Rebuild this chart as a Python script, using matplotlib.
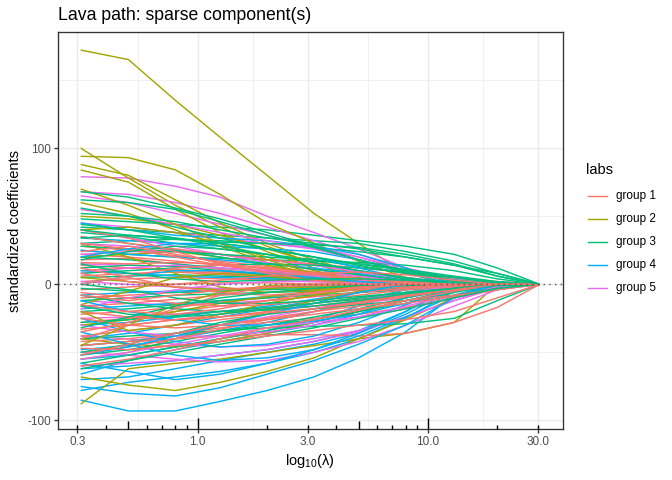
import matplotlib
matplotlib.use("Agg")
import matplotlib.pyplot as plt
from matplotlib.lines import Line2D
from matplotlib.transforms import blended_transform_factory
import numpy as np

plt.rcParams['font.family'] = ['Liberation Sans', 'DejaVu Sans']
plt.rcParams['mathtext.fontset'] = 'custom'
plt.rcParams['mathtext.rm'] = 'Liberation Sans'

lam = [0.31, 0.5, 0.8, 1.25, 2.0, 3.2, 5.0, 8.0, 13.0, 20.0, 30.6]

group_names = ["group 1", "group 2", "group 3", "group 4", "group 5"]
group_colors = ["#F8766D", "#A3A500", "#00BF7D", "#00B0F6", "#E76BF3"]

# group 1 paths
grp1 = [
    [22, 20, 17, 14, 10, 6, 2, 0, 0, 0, 0],
    [18, 19, 15, 11, 7, 3, 0, 0, 0, 0, 0],
    [14, 12, 10, 8, 6, 4, 2, 0, 0, 0, 0],
    [10, 12, 11, 9, 7, 5, 3, 1, 0, 0, 0],
    [6, 8, 9, 7, 5, 3, 1, 0, 0, 0, 0],
    [28, 25, 21, 17, 13, 9, 6, 3, 0, 0, 0],
    [2, 4, 5, 4, 3, 2, 1, 0, 0, 0, 0],
    [-4, -2, 0, 1, 1, 0, 0, 0, 0, 0, 0],
    [-10, -8, -6, -4, -3, -1, 0, 0, 0, 0, 0],
    [-16, -14, -11, -8, -6, -4, -2, 0, 0, 0, 0],
    [-22, -20, -17, -13, -10, -7, -4, -2, 0, 0, 0],
    [-28, -25, -20, -16, -12, -9, -6, -3, 0, 0, 0],
    [-33, -30, -26, -22, -18, -14, -10, -6, -2, 0, 0],
    [-38, -34, -30, -26, -22, -18, -13, -8, -3, 0, 0],
    [-42, -40, -36, -32, -28, -25, -22, -17, -10, -3, 0],
    [-45, -42, -40, -38, -37, -37, -38, -36, -28, -17, 0],
    [-20, -24, -26, -24, -20, -16, -12, -8, -4, -1, 0],
    [35, 30, 26, 22, 18, 15, 12, 9, 5, 2, 0],
    [-50, -46, -40, -33, -26, -20, -14, -8, -2, 0, 0],
    [30, 26, 20, 14, 9, 5, 2, 0, 0, 0, 0],
    [-6, -10, -14, -16, -15, -12, -8, -4, -1, 0, 0],
    [16, 15, 16, 15, 12, 8, 4, 1, 0, 0, 0],
    [-60, -55, -48, -40, -32, -26, -19, -12, -5, 0, 0],
    [-25, -30, -32, -30, -26, -22, -18, -14, -9, -4, 0],
    [12, 5, -2, -6, -8, -6, -3, 0, 0, 0, 0],
    [-35, -28, -18, -8, -2, 0, 0, 0, 0, 0, 0],
    [40, 34, 24, 15, 8, 3, 0, 0, 0, 0, 0],
    [-15, -20, -22, -18, -12, -6, -2, 0, 0, 0, 0],
    [0, 6, 12, 14, 12, 8, 4, 1, 0, 0, 0],
    [-52, -44, -36, -30, -25, -20, -16, -12, -8, -4, 0],
    [24, 28, 22, 16, 11, 7, 4, 2, 0, 0, 0],
    [-40, -30, -26, -24, -21, -18, -14, -9, -4, 0, 0],
    [8, 2, 0, 3, 6, 8, 9, 7, 3, 0, 0],
    [-8, -12, -8, -4, -2, 0, 0, 0, 0, 0, 0],
    [-47, -48, -45, -42, -38, -34, -30, -26, -20, -10, 0],
]

# group 2 paths
grp2 = [
    [172, 165, 135, 108, 80, 52, 30, 8, 0, 0, 0],
    [100, 78, 58, 42, 28, 15, 5, 0, 0, 0, 0],
    [94, 93, 84, 66, 45, 30, 17, 5, 0, 0, 0],
    [88, 80, 62, 45, 30, 18, 8, 0, 0, 0, 0],
    [84, 75, 55, 38, 24, 12, 4, 0, 0, 0, 0],
    [50, 48, 44, 36, 26, 16, 7, 1, 0, 0, 0],
    [40, 42, 38, 30, 20, 10, 3, 0, 0, 0, 0],
    [-88, -62, -58, -55, -50, -45, -40, -36, -28, 0, 0],
    [-68, -74, -78, -72, -64, -54, -40, -26, -10, 0, 0],
    [-55, -50, -40, -30, -20, -12, -5, 0, 0, 0, 0],
    [20, 22, 24, 20, 14, 8, 3, 0, 0, 0, 0],
    [-30, -26, -20, -14, -9, -5, -2, 0, 0, 0, 0],
    [5, 2, -2, -4, -3, -2, -1, 0, 0, 0, 0],
    [-40, -44, -46, -42, -36, -28, -20, -12, -5, 0, 0],
    [60, 52, 40, 28, 16, 6, 0, 0, 0, 0, 0],
    [-15, -5, 5, 8, 6, 3, 1, 0, 0, 0, 0],
    [30, 20, 8, -2, -6, -4, -1, 0, 0, 0, 0],
    [-20, -34, -30, -22, -14, -8, -3, 0, 0, 0, 0],
    [-45, -30, -15, -6, -1, 0, 0, 0, 0, 0, 0],
    [70, 58, 44, 30, 18, 8, 2, 0, 0, 0, 0],
]

# group 3 paths
grp3 = [
    [48, 46, 44, 42, 40, 36, 32, 28, 22, 12, 0],
    [42, 40, 38, 36, 34, 32, 30, 24, 17, 8, 0],
    [30, 32, 33, 32, 30, 27, 24, 20, 14, 6, 0],
    [25, 22, 20, 19, 18, 17, 16, 14, 10, 4, 0],
    [38, 35, 30, 26, 22, 18, 13, 8, 3, 0, 0],
    [20, 18, 15, 12, 9, 6, 4, 2, 0, 0, 0],
    [12, 14, 13, 10, 7, 4, 2, 0, 0, 0, 0],
    [5, 6, 7, 6, 5, 4, 2, 1, 0, 0, 0],
    [-3, -5, -6, -5, -4, -3, -2, -1, 0, 0, 0],
    [-12, -10, -8, -7, -6, -5, -4, -2, 0, 0, 0],
    [-20, -18, -15, -12, -10, -8, -6, -4, -2, 0, 0],
    [-28, -26, -23, -20, -17, -14, -11, -8, -5, -2, 0],
    [-40, -38, -36, -34, -32, -31, -30, -29, -25, -12, 0],
    [-45, -42, -38, -34, -30, -26, -20, -14, -6, 0, 0],
    [-52, -48, -42, -36, -30, -24, -18, -10, -3, 0, 0],
    [-58, -52, -46, -40, -34, -28, -20, -12, -4, 0, 0],
    [35, 30, 25, 20, 15, 11, 7, 3, 0, 0, 0],
    [28, 26, 24, 22, 20, 18, 15, 11, 6, 2, 0],
    [8, 10, 12, 14, 15, 14, 12, 9, 5, 1, 0],
    [-8, -14, -18, -20, -19, -16, -12, -7, -3, 0, 0],
    [68, 64, 56, 48, 38, 28, 18, 9, 2, 0, 0],
    [62, 60, 55, 46, 36, 27, 18, 10, 3, 0, 0],
    [52, 50, 46, 40, 34, 30, 26, 20, 14, 8, 0],
    [44, 40, 34, 28, 22, 16, 10, 4, 0, 0, 0],
    [18, 24, 28, 26, 22, 16, 10, 5, 1, 0, 0],
    [-32, -24, -16, -10, -6, -3, -1, 0, 0, 0, 0],
    [0, -4, -10, -14, -14, -12, -9, -6, -3, 0, 0],
    [-50, -44, -36, -28, -22, -18, -15, -12, -8, -3, 0],
    [34, 36, 34, 30, 26, 20, 14, 8, 3, 0, 0],
    [-16, -22, -24, -22, -18, -14, -10, -6, -3, -1, 0],
    [56, 50, 42, 34, 26, 20, 15, 10, 5, 1, 0],
    [15, 8, 4, 2, 3, 4, 4, 3, 1, 0, 0],
    [-62, -56, -50, -44, -38, -32, -25, -18, -10, -3, 0],
    [40, 36, 33, 31, 30, 29, 27, 22, 15, 6, 0],
]

# group 4 paths
grp4 = [
    [-85, -93, -93, -86, -78, -68, -54, -35, -8, 0, 0],
    [-78, -72, -68, -64, -58, -50, -40, -25, -5, 0, 0],
    [-70, -68, -62, -56, -50, -44, -36, -22, -4, 0, 0],
    [-62, -60, -56, -52, -48, -42, -34, -20, 0, 0, 0],
    [-66, -56, -48, -42, -36, -30, -22, -10, 0, 0, 0],
    [-55, -52, -46, -40, -34, -26, -16, -6, 0, 0, 0],
    [-48, -45, -40, -34, -28, -20, -12, -4, 0, 0, 0],
    [-40, -36, -30, -24, -18, -12, -6, -1, 0, 0, 0],
    [-30, -28, -24, -20, -16, -11, -6, -2, 0, 0, 0],
    [-18, -16, -14, -12, -9, -6, -3, 0, 0, 0, 0],
    [-8, -6, -5, -4, -3, -2, -1, 0, 0, 0, 0],
    [10, 8, 6, 5, 4, 3, 2, 0, 0, 0, 0],
    [25, 22, 20, 18, 15, 12, 8, 3, 0, 0, 0],
    [34, 32, 30, 28, 26, 24, 18, 8, 0, 0, 0],
    [45, 40, 36, 34, 32, 28, 22, 12, 0, 0, 0],
    [-25, -35, -42, -46, -44, -38, -28, -15, -3, 0, 0],
    [-58, -64, -70, -66, -58, -48, -36, -20, -2, 0, 0],
    [-35, -44, -52, -56, -54, -48, -38, -24, -8, 0, 0],
    [-75, -80, -82, -76, -66, -56, -44, -30, -10, 0, 0],
    [20, 26, 30, 30, 26, 20, 12, 4, 0, 0, 0],
    [-12, -20, -26, -30, -30, -27, -22, -14, -4, 0, 0],
    [0, 6, 10, 10, 8, 5, 2, 0, 0, 0, 0],
    [-52, -46, -38, -30, -22, -14, -6, 0, 0, 0, 0],
]

# group 5 paths
grp5 = [
    [79, 78, 72, 64, 50, 38, 26, 12, 0, 0, 0],
    [68, 66, 60, 52, 42, 32, 22, 12, 3, 0, 0],
    [65, 60, 52, 44, 36, 28, 20, 10, 2, 0, 0],
    [45, 42, 38, 34, 30, 26, 20, 12, 4, 0, 0],
    [30, 28, 25, 22, 18, 14, 10, 5, 1, 0, 0],
    [15, 14, 13, 12, 10, 8, 6, 3, 0, 0, 0],
    [2, 0, -2, -3, -3, -2, -1, 0, 0, 0, 0],
    [-12, -14, -15, -14, -12, -9, -6, -3, 0, 0, 0],
    [-25, -24, -22, -20, -18, -16, -14, -10, -4, 0, 0],
    [-38, -40, -44, -46, -45, -40, -34, -24, -12, -3, 0],
    [-50, -52, -55, -57, -56, -50, -42, -30, -16, -4, 0],
    [-60, -58, -56, -52, -48, -42, -35, -24, -12, -2, 0],
    [-45, -42, -36, -30, -24, -18, -12, -6, -1, 0, 0],
    [22, 24, 24, 22, 18, 14, 9, 4, 0, 0, 0],
    [55, 50, 44, 38, 32, 26, 18, 10, 2, 0, 0],
    [40, 34, 28, 22, 16, 11, 6, 2, 0, 0, 0],
    [-30, -35, -38, -38, -35, -30, -24, -16, -8, -2, 0],
    [8, 12, 14, 12, 9, 6, 3, 1, 0, 0, 0],
    [-55, -50, -44, -38, -32, -28, -24, -18, -10, -3, 0],
    [-18, -10, -4, 0, 2, 2, 1, 0, 0, 0, 0],
]

groups = [grp1, grp2, grp3, grp4, grp5]

W, H = 672, 480
fig = plt.figure(figsize=(W / 96, H / 96), dpi=96)
ax = fig.add_axes([57.7 / W, 1 - 429 / H, (562.7 - 57.7) / W, (429 - 32) / H])

lw = 1.07
nmax = max(len(g) for g in groups)
for i in range(nmax):
    for g, col in zip(groups, group_colors):
        if i < len(g):
            ax.plot(lam, g[i], color=col, lw=lw, zorder=3, solid_capstyle='butt')

ax.axhline(0, color='#555555', lw=lw, dashes=(1, 3), zorder=4)

ax.set_xscale('log')
lo, hi = np.log10(lam[0]), np.log10(lam[-1])
pad = 0.05 * (hi - lo)
ax.set_xlim(10 ** (lo - pad), 10 ** (hi + pad))
ymin = min(min(min(r) for r in g) for g in groups)
ymax = max(max(max(r) for r in g) for g in groups)
ypad = 0.05 * (ymax - ymin)
ax.set_ylim(ymin - ypad, ymax + ypad)

xt = [0.3, 1.0, 3.0, 10.0, 30.0]
ax.set_xticks(xt)
ax.set_xticklabels(["0.3", "1.0", "3.0", "10.0", "30.0"])
ax.xaxis.set_minor_locator(matplotlib.ticker.NullLocator())
ax.set_yticks([-100, 0, 100])
ax.set_yticklabels(["-100", "0", "100"])

# grid lines
for x in xt:
    ax.axvline(x, color='#EBEBEB', lw=1.07, zorder=0)
for a, b in zip(xt[:-1], xt[1:]):
    ax.axvline(np.sqrt(a * b), color='#EBEBEB', lw=0.53, zorder=0)
for y in [-100, 0, 100]:
    ax.axhline(y, color='#EBEBEB', lw=1.07, zorder=0)
for y in [-50, 50, 150]:
    ax.axhline(y, color='#EBEBEB', lw=0.53, zorder=0)

for s in ax.spines.values():
    s.set_color('#333333')
    s.set_linewidth(1.0)

ax.tick_params(axis='both', which='major', length=2.75, width=1.0, color='#333333',
               labelsize=8.8, labelcolor='#4D4D4D', pad=2.2)

# log ticks along the bottom
trans = blended_transform_factory(ax.transData, ax.transAxes)
ph = 429 - 32
for dec in [0.1, 1, 10]:
    for k in range(1, 10):
        v = k * dec
        if v < ax.get_xlim()[0] or v > ax.get_xlim()[1]:
            continue
        if k == 1:
            L = 11.3
        elif k == 5:
            L = 7.6
        else:
            L = 3.8
        ax.plot([v, v], [0, L / ph], color='black', lw=lw, transform=trans,
                zorder=5, clip_on=False, solid_capstyle='butt')

ax.set_xlabel("log$_{10}$(λ)", fontsize=11, labelpad=3)
ax.set_ylabel("standardized coefficients", fontsize=11, labelpad=4)

fig.text(58 / W, 1 - 20 / H, "Lava path: sparse component(s)", fontsize=13.2,
         ha='left', va='baseline')

# legend
fig.text(586 / W, 1 - 174 / H, "labs", fontsize=11, ha='left', va='baseline')
ys = [196, 219, 242, 265, 288]
for yy, name, col in zip(ys, group_names, group_colors):
    fig.add_artist(Line2D([588 / W, 607 / W], [1 - yy / H, 1 - yy / H],
                          transform=fig.transFigure, color=col, lw=lw))
    fig.text(616 / W, 1 - yy / H, name, fontsize=8.8, ha='left', va='center')

fig.savefig("out.png", dpi=96)
